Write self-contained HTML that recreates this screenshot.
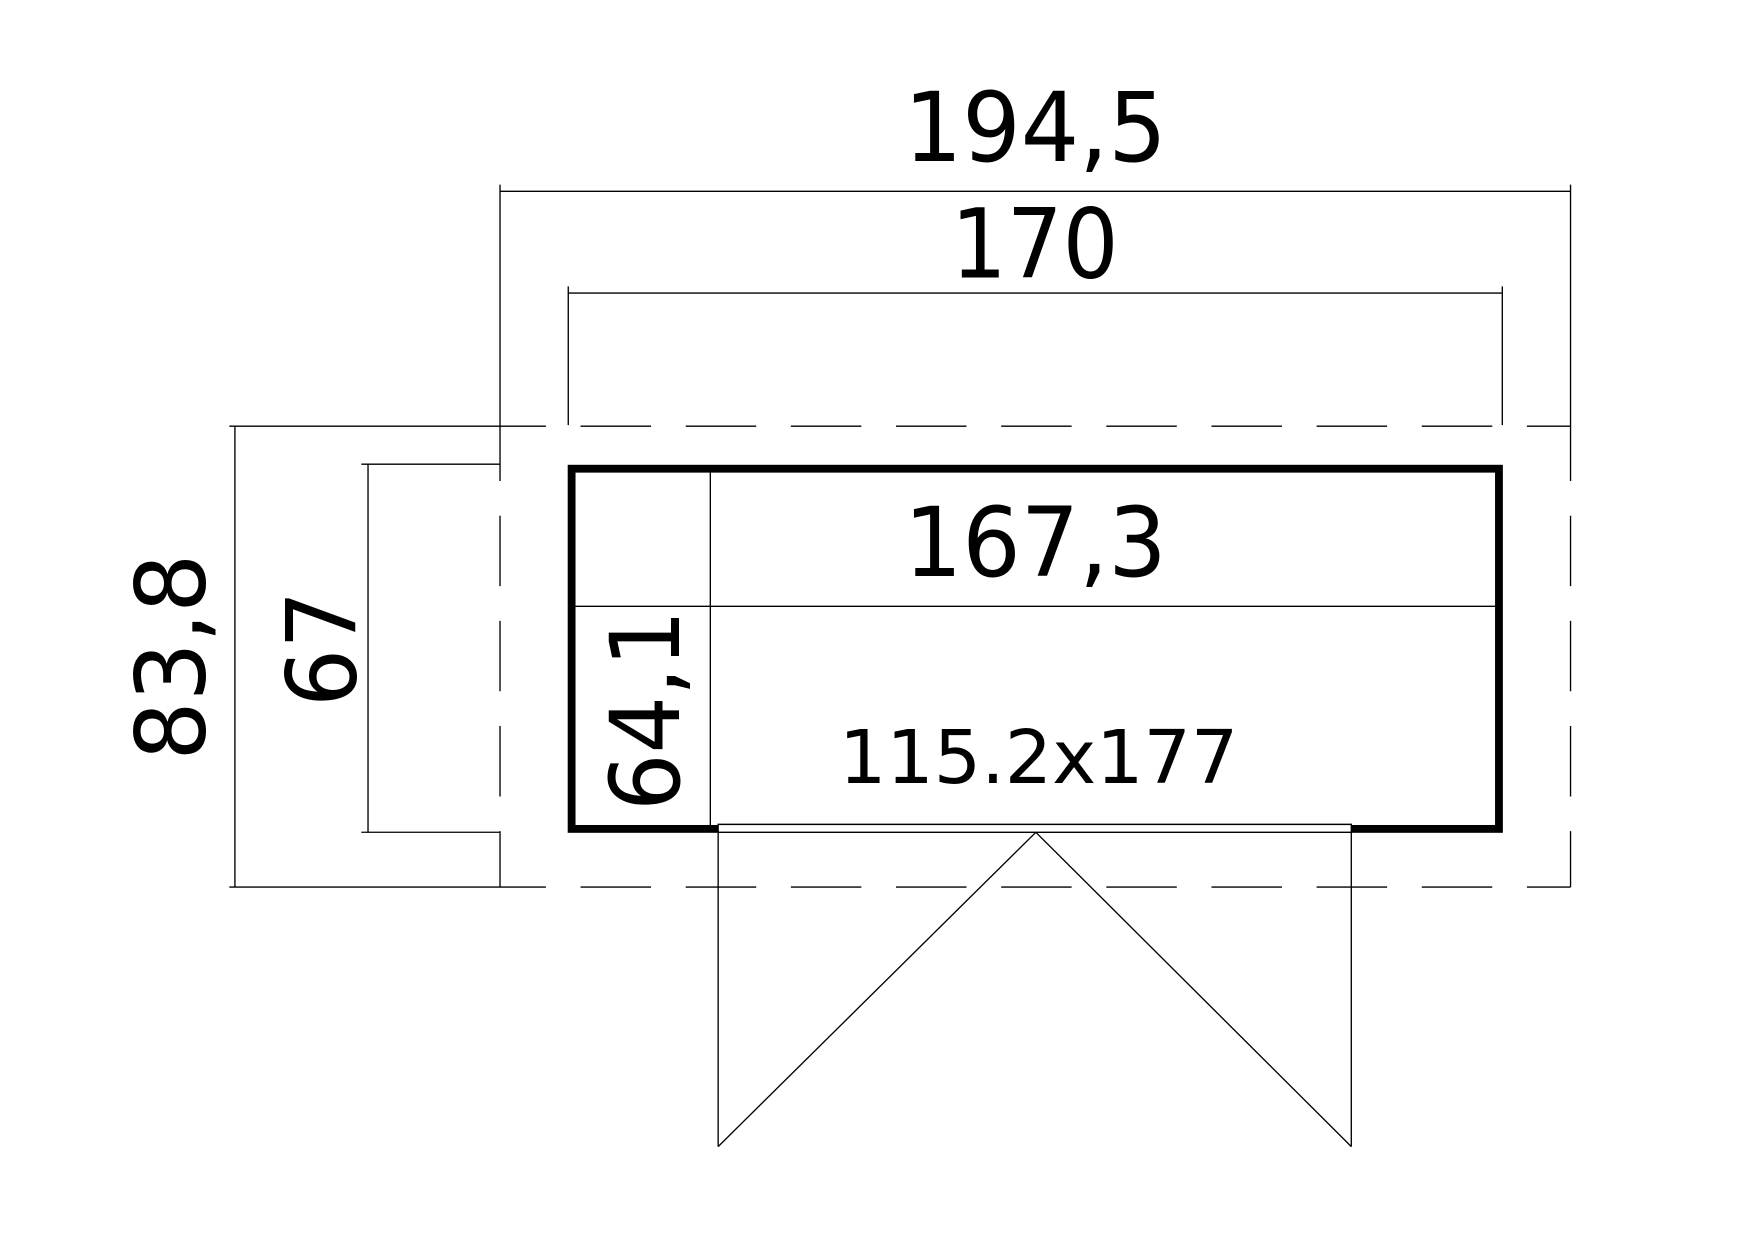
<!DOCTYPE html>
<html><head><style>html,body{margin:0;padding:0;background:#fff;}svg{display:block;}</style></head>
<body>
<svg width="1754" height="1240" viewBox="0 0 1568 1108.5" xmlns="http://www.w3.org/2000/svg">
<g stroke="#000" fill="none" stroke-width="1.2">
  <!-- 194,5 dimension -->
  <line x1="447" y1="171" x2="1404" y2="171"/>
  <line x1="447" y1="165" x2="447" y2="430"/>
  <line x1="1404" y1="165" x2="1404" y2="430"/>
  <!-- 170 dimension -->
  <line x1="508" y1="262" x2="1343" y2="262"/>
  <line x1="508" y1="256" x2="508" y2="380"/>
  <line x1="1343" y1="256" x2="1343" y2="380"/>
  <!-- dashed outer -->
  <line x1="205" y1="381" x2="488" y2="381"/>
  <line x1="205" y1="793" x2="488" y2="793"/>
  <line x1="519" y1="381" x2="1404" y2="381" stroke-dasharray="63 31"/>
  <line x1="519" y1="793" x2="1404" y2="793" stroke-dasharray="63 31"/>
  <line x1="447" y1="461" x2="447" y2="745" stroke-dasharray="63 31" stroke-dashoffset="0"/>
  <line x1="447" y1="745" x2="447" y2="793"/>
  <line x1="1404" y1="461" x2="1404" y2="793" stroke-dasharray="63 31"/>
  <!-- 83,8 dimension -->
  <line x1="210" y1="381" x2="210" y2="793"/>
  <!-- 67 dimension -->
  <line x1="329" y1="415" x2="329" y2="744"/>
  <line x1="323" y1="415" x2="447" y2="415"/>
  <line x1="323" y1="744" x2="447" y2="744"/>
  <!-- inner lines -->
  <line x1="635" y1="419" x2="635" y2="741"/>
  <line x1="511" y1="542" x2="1340" y2="542"/>
  <!-- door -->
  <rect x="642" y="737" width="566" height="7" fill="#fff"/>
  <line x1="642" y1="744" x2="642" y2="1025"/>
  <line x1="1208" y1="744" x2="1208" y2="1025"/>
  <polyline points="642,1025 926,744 1208,1025"/>
</g>
<rect x="511" y="419" width="829" height="322" fill="none" stroke="#000" stroke-width="7"/>
<rect x="642" y="737" width="566" height="7" fill="#fff" stroke="#000" stroke-width="1.2"/>
<g font-family="'DejaVu Sans Condensed','DejaVu Sans','Liberation Sans',sans-serif" fill="#000">
  <text x="808" y="144" font-size="86" textLength="235" lengthAdjust="spacingAndGlyphs">194,5</text>
  <text x="850" y="248" font-size="86" textLength="150" lengthAdjust="spacingAndGlyphs">170</text>
  <text x="808" y="515" font-size="86" textLength="235" lengthAdjust="spacingAndGlyphs">167,3</text>
  <text x="750" y="700" font-size="66" textLength="357" lengthAdjust="spacingAndGlyphs">115.2x177</text>
  <text transform="translate(183,680) rotate(-90)" font-size="86" textLength="185" lengthAdjust="spacingAndGlyphs">83,8</text>
  <text transform="translate(318,632) rotate(-90)" font-size="86" textLength="104" lengthAdjust="spacingAndGlyphs">67</text>
  <text transform="translate(607,725) rotate(-90)" font-size="86" textLength="180" lengthAdjust="spacingAndGlyphs">64,1</text>
</g>
</svg>
</body></html>
